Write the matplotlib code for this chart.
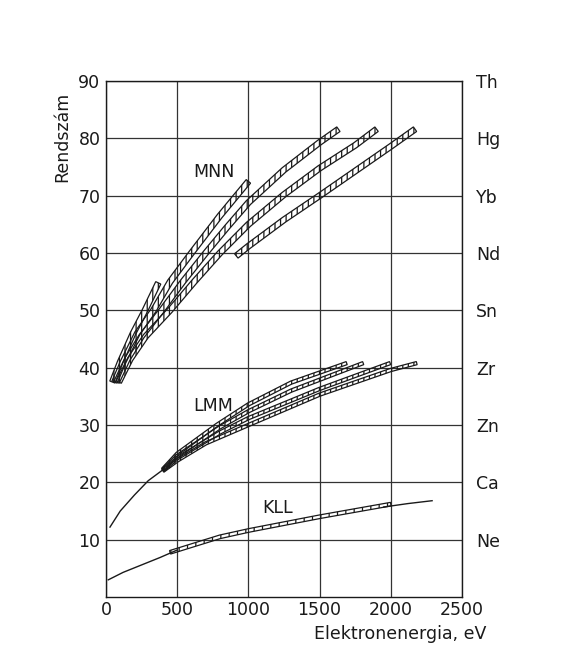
import numpy as np
import matplotlib
matplotlib.use("Agg")
import matplotlib.pyplot as plt
from matplotlib.patches import Polygon

# === Data ===

x_ticks = [0, 500, 1000, 1500, 2000, 2500]
z_ticks = [10, 20, 30, 40, 50, 60, 70, 80, 90]
element_labels = ["Ne", "Ca", "Zn", "Zr", "Sn", "Nd", "Yb", "Hg", "Th"]

# KLL
kll_trunk_e = [16, 120, 250, 380, 500]
kll_trunk_z = [3.0, 4.3, 5.6, 6.9, 8.2]
kll_band_e = [450, 800, 1000, 1250, 1500, 1750, 2000]
kll_band_z = [7.8, 10.5, 11.6, 12.8, 14.0, 15.1, 16.2]
kll_tail_e = [1950, 2120, 2290]
kll_tail_z = [15.7, 16.3, 16.8]

# LMM
lmm_trunk_e = [28, 100, 200, 297, 400]
lmm_trunk_z = [12.2, 15.0, 17.8, 20.3, 22.2]
lmm_1_e = [400, 500, 777, 1000, 1300, 1690]
lmm_1_z = [22.3, 25.0, 30.0, 33.6, 37.4, 40.8]
lmm_2_e = [400, 500, 800, 1000, 1300, 1806]
lmm_2_z = [22.2, 24.6, 29.6, 32.4, 36.0, 40.8]
lmm_3_e = [400, 500, 800, 1000, 1500, 1995]
lmm_3_z = [22.1, 24.2, 28.7, 31.2, 36.3, 40.8]
lmm_4_e = [400, 500, 700, 1000, 1500, 2000, 2182]
lmm_4_z = [22.0, 23.8, 26.8, 30.0, 35.3, 39.6, 40.8]

# MNN
mnn_s_e = [45, 100, 190, 274, 367]
mnn_s_z = [37.5, 41.0, 46.0, 50.0, 54.8]
mnn_a_e = [60, 120, 220, 333, 450, 600, 800, 1000]
mnn_a_z = [37.5, 41.0, 46.0, 50.0, 55.0, 60.0, 66.5, 72.5]
mnn_b_e = [75, 150, 250, 391, 540, 700, 850, 1000, 1250, 1500, 1632]
mnn_b_z = [37.5, 41.5, 45.5, 50.0, 55.0, 60.0, 64.5, 68.8, 74.5, 79.3, 81.6]
mnn_c_e = [90, 170, 280, 449, 620, 800, 1000, 1250, 1500, 1750, 1900]
mnn_c_z = [37.5, 41.5, 45.5, 50.0, 55.0, 60.0, 65.0, 70.2, 74.8, 78.8, 81.6]
mnn_d_e = [915, 1000, 1250, 1500, 1750, 2000, 2170]
mnn_d_z = [59.5, 61.2, 65.8, 70.0, 74.3, 78.6, 81.6]

# === Plotting ===

plt.rcParams["font.family"] = "DejaVu Sans"
plt.rcParams["hatch.linewidth"] = 0.9
INK = "#1a1a1a"


def draw_band(ax, e, z, half_px, hatch):
    # hatched strip of constant width (in pixels) around the curve
    pts = ax.transData.transform(np.column_stack([e, z]))
    d = np.gradient(pts, axis=0)
    n = np.column_stack([-d[:, 1], d[:, 0]])
    n /= np.hypot(n[:, 0], n[:, 1])[:, None]
    outline = np.vstack([pts + n * half_px, (pts - n * half_px)[::-1]])
    poly = ax.transData.inverted().transform(outline)
    ax.add_patch(Polygon(poly, closed=True, facecolor="none", edgecolor=INK,
                         lw=0.9, hatch=hatch, zorder=3))


fig = plt.figure(figsize=(5.84, 6.67), dpi=100)
ax = fig.add_axes([0.1815, 0.1049, 0.6096, 0.7736])
ax.set_xlim(0, 2500)
ax.set_ylim(0, 90)
ax.set_xticks(x_ticks)
ax.set_yticks(z_ticks)
ax.tick_params(length=0, labelsize=12.5, colors=INK)
ax.tick_params(axis="x", pad=3)
ax.tick_params(axis="y", pad=4)
ax.grid(True, color="#333333", lw=0.9)
ax.set_axisbelow(True)
for sp in ax.spines.values():
    sp.set_linewidth(1.0)
    sp.set_color(INK)

ax2 = ax.twinx()
ax2.set_ylim(0, 90)
ax2.set_yticks(z_ticks)
ax2.set_yticklabels(element_labels)
ax2.tick_params(length=0, labelsize=12.5, colors=INK, pad=10)
for sp in ax2.spines.values():
    sp.set_visible(False)

# KLL
ax.plot(kll_trunk_e, kll_trunk_z, color=INK, lw=1.0, zorder=3)
draw_band(ax, kll_band_e, kll_band_z, 1.8, "||")
ax.plot(kll_tail_e, kll_tail_z, color=INK, lw=1.0, zorder=3)

# LMM
ax.plot(lmm_trunk_e, lmm_trunk_z, color=INK, lw=1.0, zorder=3)
for e, z in [(lmm_1_e, lmm_1_z), (lmm_2_e, lmm_2_z), (lmm_3_e, lmm_3_z), (lmm_4_e, lmm_4_z)]:
    draw_band(ax, e, z, 1.6, "|||")

# MNN
for e, z in [(mnn_s_e, mnn_s_z), (mnn_a_e, mnn_a_z), (mnn_b_e, mnn_b_z),
             (mnn_c_e, mnn_c_z), (mnn_d_e, mnn_d_z)]:
    draw_band(ax, e, z, 2.8, "|||")

ax.text(758, 74.1, "MNN", fontsize=12.5, color=INK, ha="center", va="center")
ax.text(751, 33.3, "LMM", fontsize=12.5, color=INK, ha="center", va="center")
ax.text(1208, 15.5, "KLL", fontsize=12.5, color=INK, ha="center", va="center")

fig.text(62 / 584, 1 - 137 / 667, "Rendszám", rotation=90, fontsize=12.5,
         color=INK, ha="center", va="center")
fig.text(400 / 584, 1 - 634 / 667, "Elektronenergia, eV", fontsize=12.5,
         color=INK, ha="center", va="center")

fig.savefig("out.png", dpi=100, facecolor="white")
